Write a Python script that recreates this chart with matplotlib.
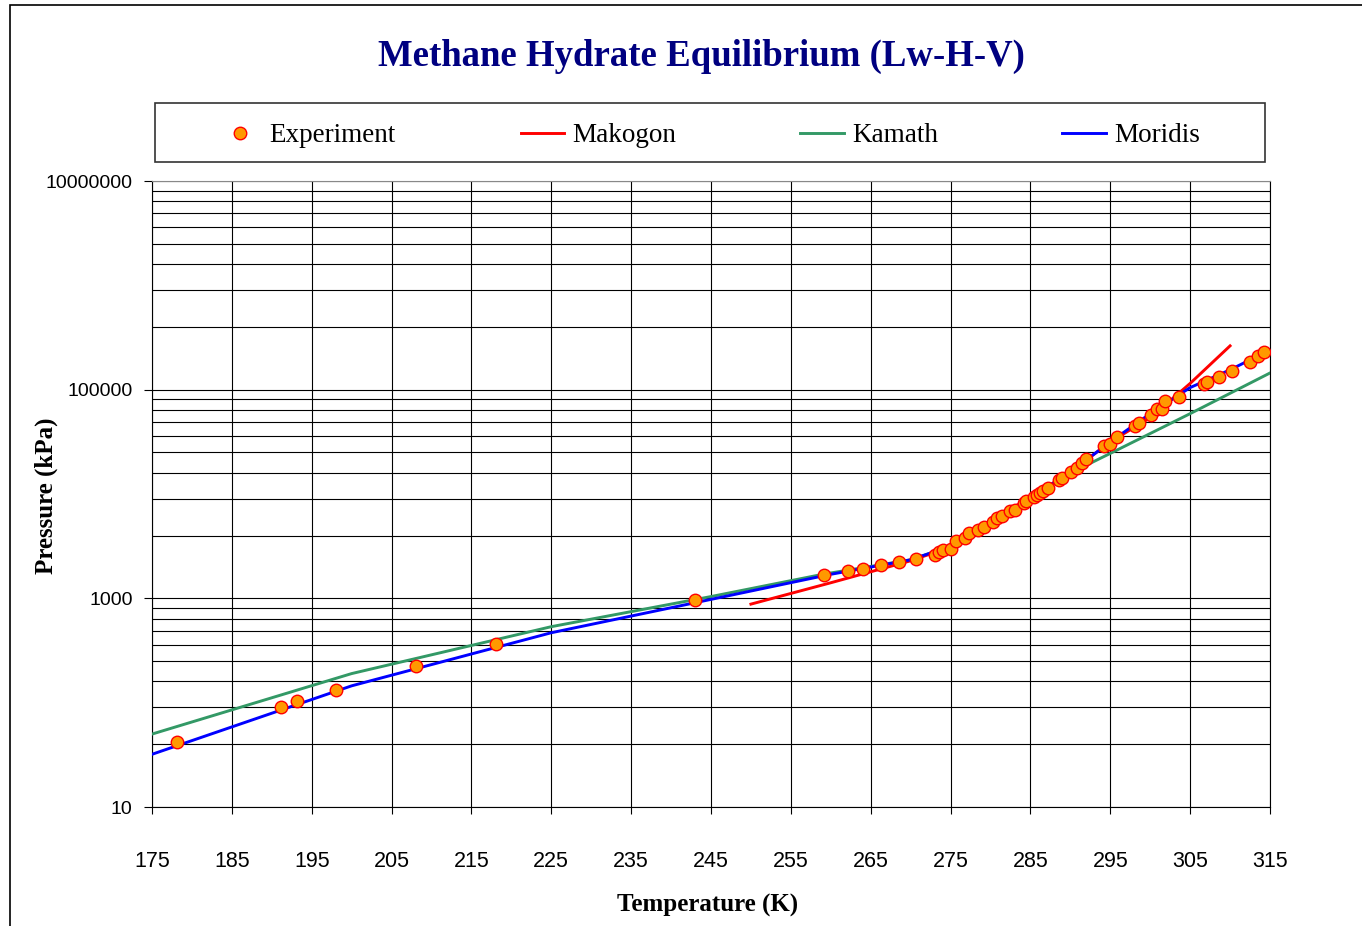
import numpy as np
import matplotlib.pyplot as plt
from matplotlib.ticker import FixedLocator, NullFormatter, FuncFormatter
from matplotlib.patches import Rectangle

# experiment data (K, kPa)
exp_T = [178.1, 191.2, 193.1, 198.1, 208.1, 218.1, 243.0, 259.1, 262.2, 264.0,
         266.3, 268.5, 270.7, 273.0, 273.6, 274.1, 275.1, 275.7, 276.8, 277.3,
         278.4, 279.2, 280.3, 280.8, 281.5, 282.4, 283.1, 284.2, 284.5, 285.4,
         285.8, 286.2, 286.6, 287.2, 288.6, 288.9, 290.1, 290.8, 291.4, 292.0,
         294.2, 295.0, 295.9, 298.1, 298.6, 300.1, 300.9, 301.5, 301.8, 303.6,
         306.7, 307.1, 308.6, 310.2, 312.5, 313.5, 314.2]
exp_P = [42, 91, 104, 132, 224, 363, 968, 1660, 1820, 1905,
         2090, 2240, 2400, 2630, 2790, 2920, 2990, 3520, 3750, 4240,
         4470, 4820, 5370, 5890, 6170, 6840, 7080, 8200, 8510, 9330,
         9890, 10330, 10720, 11480, 13490, 14130, 16220, 17780, 19950, 21880,
         28840, 30200, 35480, 44670, 48420, 56890, 65310, 65310, 77620, 85110,
         112200, 117500, 131800, 151400, 184100, 208900, 229100]

# model curves
mak_T = [250, 260, 270, 273, 275, 280, 285, 290, 295, 300, 305, 310]
mak_P = [880, 1410, 2290, 2750, 3240, 5500, 9330, 16200, 31600, 53700, 114800, 263000]

kam_T = [175, 200, 225, 245, 259, 270, 275, 280, 285, 290, 295, 305, 315]
kam_P = [50, 190, 535, 1040, 1700, 2340, 3160, 5250, 8910, 15850, 24500, 58900, 144500]

mor_T = [175, 200, 225, 245, 260, 270, 275, 280, 285, 290, 295, 300, 305, 310, 315]
mor_P = [32, 145, 468, 977, 1700, 2340, 3160, 5370, 9120, 16200, 31600, 58900, 104700, 155000, 240000]

x_ticks = list(range(175, 316, 10))
y_ticks = [10, 1000, 100000, 10000000]

plt.rcParams['font.family'] = ['Liberation Serif', 'DejaVu Serif']

W, H = 1362, 926
fig = plt.figure(figsize=(W / 100, H / 100), dpi=100)
ax = fig.add_axes([152 / W, 1 - 807 / H, 1118 / W, 626 / H])

ax.plot(exp_T, exp_P, 'o', color='#FF9900', markeredgecolor='#FF0000',
        markersize=9, markeredgewidth=1.0, label='Experiment', zorder=5)
ax.plot(mak_T, mak_P, color='#FF0000', lw=2.1, label='Makogon', zorder=4)
ax.plot(kam_T, kam_P, color='#339966', lw=2.1, label='Kamath', zorder=3)
ax.plot(mor_T, mor_P, color='#0000FF', lw=2.1, label='Moridis', zorder=4)

ax.set_yscale('log')
ax.set_xlim(175, 315)
ax.set_ylim(10, 1e7)

# minor gridlines sit at k^2 times each labelled decade (Excel style)
minor = [m * k * k for m in y_ticks[:-1] for k in range(2, 10)]
ax.xaxis.set_major_locator(FixedLocator(x_ticks))
ax.yaxis.set_major_locator(FixedLocator(y_ticks))
ax.yaxis.set_minor_locator(FixedLocator(minor))
ax.yaxis.set_minor_formatter(NullFormatter())
ax.yaxis.set_major_formatter(FuncFormatter(lambda v, p: '%d' % v))

ax.grid(True, which='major', color='black', lw=0.8)
ax.grid(True, which='minor', axis='y', color='black', lw=0.8)
ax.tick_params(axis='y', which='minor', length=0)
ax.tick_params(axis='x', which='major', direction='out', length=5, pad=27, width=0.8)
ax.tick_params(axis='y', which='major', direction='out', length=6, pad=8, width=0.8)
for lab in ax.get_xticklabels():
    lab.set_family(['Liberation Sans', 'DejaVu Sans'])
    lab.set_fontsize(15.5)
for lab in ax.get_yticklabels():
    lab.set_family(['Liberation Sans', 'DejaVu Sans'])
    lab.set_fontsize(14)
for s in ax.spines.values():
    s.set_color('black')
    s.set_linewidth(0.8)
ax.spines['top'].set_color('#888888')

fig.text(708 / W, 1 - 905 / H, 'Temperature (K)', fontsize=18, fontweight='bold',
         ha='center', va='center')
fig.text(46 / W, 1 - 496 / H, 'Pressure (kPa)', fontsize=18, fontweight='bold',
         rotation=90, ha='center', va='center')
fig.text(701 / W, 1 - 56 / H, 'Methane Hydrate Equilibrium (Lw-H-V)',
         fontsize=26.5, fontweight='bold', color='#000080', ha='center', va='center')

# legend box
fig.patches.append(Rectangle((155 / W, 1 - 162 / H), 1110 / W, 59 / H,
                             transform=fig.transFigure, fill=False,
                             edgecolor='#333333', lw=1.2))
fig.legend(loc='center', bbox_to_anchor=(709 / W, 1 - 136 / H), ncol=4,
           fontsize=19.5, frameon=False, handlelength=1.6, handletextpad=0.3,
           columnspacing=4.6, borderaxespad=0)

# chart border
fig.patches.append(Rectangle((10 / W, -0.5), 2, 1 - 5 / H + 0.5, transform=fig.transFigure,
                             fill=False, edgecolor='black', lw=1.2))

fig.savefig('out.png', dpi=100)
